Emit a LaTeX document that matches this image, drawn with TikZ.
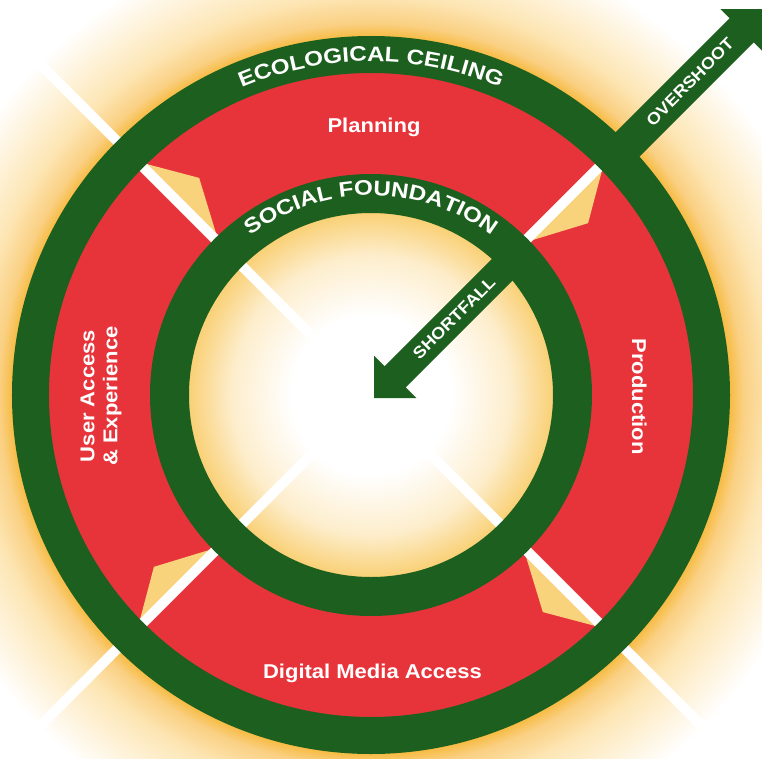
\documentclass[tikz,border=0pt]{standalone}
\usepackage{fontspec}
\usetikzlibrary{decorations.text}
\newfontfamily\labelfont{Liberation Sans}[FakeStretch=1.1]
\newfontfamily\ringfont{Liberation Sans}[FakeStretch=1.15]
\begin{document}
\begin{tikzpicture}[x=1pt, y=1pt,
  label text/.style={text=white, inner sep=0pt, font=\labelfont\bfseries\fontsize{20}{23}\selectfont},
  arrow text/.style={text=white, inner sep=0pt, font=\labelfont\bfseries\fontsize{16.5}{18}\selectfont},
  divider/.style={line width=10pt, white}]
\definecolor{ring}{HTML}{1D5F1E}
\definecolor{band}{HTML}{E7343B}
\definecolor{wedge}{HTML}{F9D27C}
\definecolor{innerglow}{HTML}{F9CF72}
\definecolor{softglow}{HTML}{FDEDCB}
\definecolor{outerglow}{HTML}{F7BC45}
\definecolor{midglow}{HTML}{FAD083}
\definecolor{paleglow}{HTML}{FDE6B5}
\pgfdeclareradialshading{glow}{\pgfpoint{0bp}{0bp}}{color(0bp)=(white); color(4bp)=(white); color(7bp)=(softglow); color(9.2bp)=(innerglow); color(17.95bp)=(outerglow); color(18.6bp)=(midglow); color(20bp)=(paleglow); color(23.5bp)=(white); color(50bp)=(white)}
\useasboundingbox (-371,-363) rectangle (391,395);
\clip (-371,-363) rectangle (391,395);
%Glow:
\shade[shading=glow] (0,0) circle (500);
%Red band:
\fill[band, even odd rule] (0,0) circle (330) circle (215);
%Wedges:
\foreach \ang in {45,135,225,315}
  \fill[wedge, rotate=\ang] (215,0) -- (275,-32) -- (330,0) -- cycle;
%Dividers:
\draw[divider] (135:560) -- (-45:560);
\draw[divider] (45:560) -- (225:560);
%Rings:
\fill[ring, even odd rule] (0,0) circle (359) circle (322);
\fill[ring, even odd rule] (0,0) circle (221) circle (182);
%Arrows:
\begin{scope}[shift={(3,-3)}, rotate=45]
\fill[ring] (330,-17) -- (520,-17) -- (520,-30) -- (550,0) -- (520,30) -- (520,17) -- (330,17) -- cycle;
\fill[ring] (205,15) -- (30,15) -- (30,30) -- (0,0) -- (30,-30) -- (30,-15) -- (205,-15) -- cycle;
\end{scope}
\node[arrow text, rotate=45] (overshoot) at (319,313) {OVERSHOOT};
\node[arrow text, rotate=45] (shortfall) at (83,77) {SHORTFALL};
%Ring texts:
\path[decorate, decoration={text along path, text align=center,
  text={|\ringfont\bfseries\fontsize{21}{24}\selectfont\color{white}|ECOLOGICAL CEILING}}]
  (160:333.5) arc[start angle=160, end angle=20, radius=333.5];
\path[decorate, decoration={text along path, text align=center,
  text={|\ringfont\bfseries\fontsize{21}{24}\selectfont\color{white}|SOCIAL FOUNDATION}}]
  (170:199.5) arc[start angle=170, end angle=10, radius=199.5];
%Band labels:
\node[label text, anchor=base] (planning) at (3,262) {Planning};
\node[label text, anchor=base] (digital) at (1.5,-283) {Digital Media Access};
\node[label text, anchor=base, rotate=-90] (production) at (261,-1.5) {Production};
\node[label text, rotate=90, align=center] (user) at (-270,-1) {User Access\\\& Experience};
\end{tikzpicture}
\end{document}
